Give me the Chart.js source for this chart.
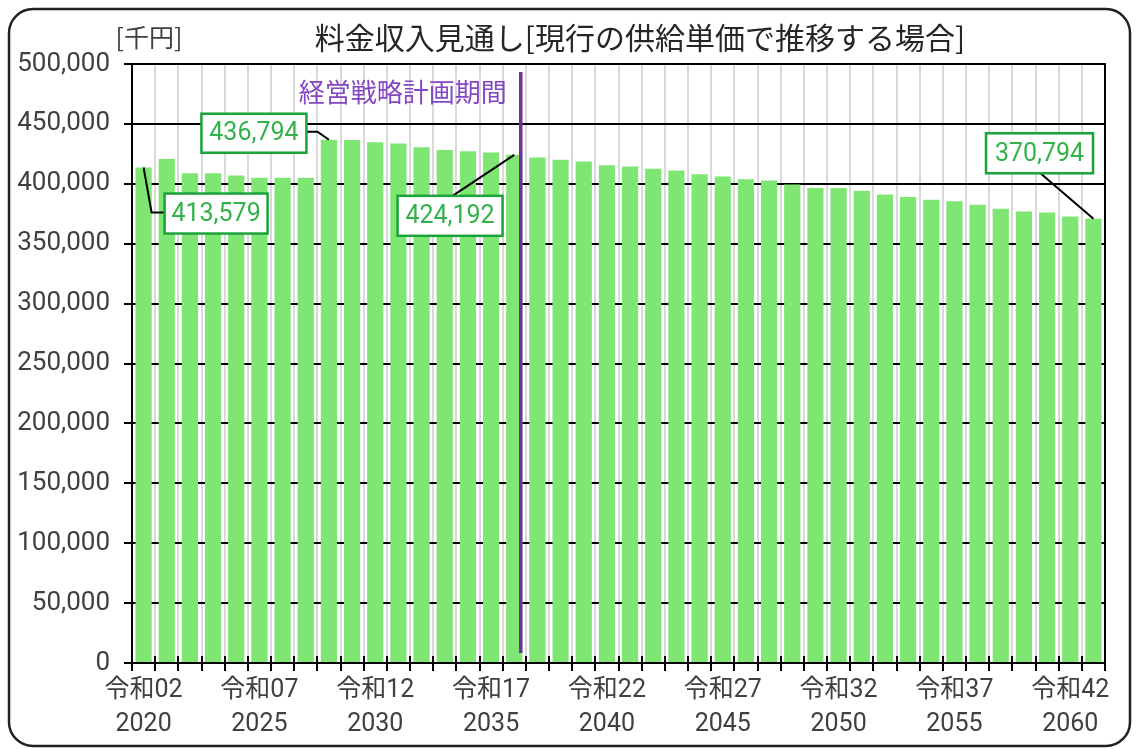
<!DOCTYPE html>
<html><head><meta charset="utf-8">
<script src="https://cdn.jsdelivr.net/npm/chart.js@4"></script>
<style>html,body{margin:0;padding:0;background:#fff}#wrap{width:1136px;height:749px;position:relative}canvas{display:block}</style>
</head><body><div id="wrap"><canvas id="c" width="1136" height="749"></canvas></div>
<script>
const years = ['2020','2021','2022','2023','2024','2025','2026','2027','2028','2029','2030','2031','2032','2033','2034','2035','2036','2037','2038','2039','2040','2041','2042','2043','2044','2045','2046','2047','2048','2049','2050','2051','2052','2053','2054','2055','2056','2057','2058','2059','2060','2061'];
const eraLabels = ['令和02','令和03','令和04','令和05','令和06','令和07','令和08','令和09','令和10','令和11','令和12','令和13','令和14','令和15','令和16','令和17','令和18','令和19','令和20','令和21','令和22','令和23','令和24','令和25','令和26','令和27','令和28','令和29','令和30','令和31','令和32','令和33','令和34','令和35','令和36','令和37','令和38','令和39','令和40','令和41','令和42','令和43'];
const revenue = [413579,420800,408800,408800,406900,405000,405000,405000,436794,436500,434700,433600,430500,428300,427200,426100,424192,421900,420000,418600,415500,414400,412500,411100,408000,406100,403900,402800,399400,396400,396400,394200,391100,388900,386700,385500,382500,379200,376900,376100,372800,370794];
const yTicksMin = 0, yTicksMax = 500000, yTicksStep = 50000;
const labelEvery = 5;
const calloutIndices = [0, 8, 16, 41];
const planEndIndex = 16;
const titleText = '料金収入見通し[現行の供給単価で推移する場合]';
const unitText = '[千円]';
const planText = '経営戦略計画期間';

const FONT_LATIN = 'Roboto, "Noto Sans CJK JP", sans-serif';
const FONT_JP = '"Noto Sans CJK JP", sans-serif';

const decorPlugin = {
  id: 'decor',
  afterDraw(chart) {
    const ctx = chart.ctx;
    const ca = chart.chartArea;
    const xs = chart.scales.x;
    ctx.save();
    // plot frame
    ctx.strokeStyle = '#000'; ctx.lineWidth = 2;
    ctx.strokeRect(ca.left, ca.top, ca.right - ca.left, ca.bottom - ca.top);
    // tick marks crossing x axis
    for (let i = 0; i <= years.length; i++) {
      const px = Math.round(xs.getPixelForValue(i - 0.5));
      ctx.beginPath(); ctx.moveTo(px, ca.bottom - 7); ctx.lineTo(px, ca.bottom); ctx.stroke();
    }
    // outer rounded border
    ctx.lineWidth = 2.5; ctx.strokeStyle = '#222';
    ctx.beginPath(); ctx.roundRect(9, 9, 1121, 737, 24); ctx.stroke();
    // title and unit
    ctx.fillStyle = '#262626'; ctx.textAlign = 'center'; ctx.textBaseline = 'middle';
    ctx.font = '30px ' + FONT_JP;
    ctx.fillText(titleText, 640, 38);
    ctx.font = '25px ' + FONT_JP; ctx.fillStyle = '#404040';
    ctx.fillText(unitText, 149, 37);
    // plan line
    const lx = xs.getPixelForValue(planEndIndex + 0.28);
    ctx.strokeStyle = '#7030a0'; ctx.lineWidth = 3.5;
    ctx.beginPath(); ctx.moveTo(lx, ca.top + 8); ctx.lineTo(lx, ca.bottom - 10); ctx.stroke();
    ctx.fillStyle = '#8446c2'; ctx.font = '26px ' + FONT_JP; ctx.textAlign = 'right';
    ctx.fillText(planText, lx - 14, ca.top + 28);
    // callouts
    const meta = chart.getDatasetMeta(0);
    const specs = {
      0:  {bx: 21, by: 26, w: 103, h: 40, leader: (A, b) => [[A.x, A.y], [A.x + 8, A.y + 45], [b.x, A.y + 45]]},
      8:  {bx: -127.5, by: -26, w: 105, h: 39, leader: (A, b) => [[b.x + b.w, A.y - 8], [A.x - 11.5, A.y - 8], [A.x, A.y]]},
      16: {bx: -116.7, by: 41, w: 105, h: 40, leader: (A, b) => [[A.x - 61.7, b.y], [A.x, A.y]]},
      41: {bx: -107.4, by: -85.5, w: 107, h: 40, leader: (A, b) => [[A.x - 53, b.y + b.h], [A.x, A.y]]}
    };
    calloutIndices.forEach(i => {
      const el = meta.data[i];
      const A = {x: el.x, y: el.y};
      const s = specs[i];
      const b = {x: A.x + s.bx, y: A.y + s.by, w: s.w, h: s.h};
      ctx.strokeStyle = '#000'; ctx.lineWidth = 2;
      const pts = s.leader(A, b);
      ctx.beginPath(); ctx.moveTo(pts[0][0], pts[0][1]);
      for (let k = 1; k < pts.length; k++) ctx.lineTo(pts[k][0], pts[k][1]);
      ctx.stroke();
      ctx.fillStyle = '#fff'; ctx.fillRect(b.x, b.y, b.w, b.h);
      ctx.strokeStyle = '#1aa33a'; ctx.lineWidth = 2.5; ctx.strokeRect(b.x, b.y, b.w, b.h);
      ctx.fillStyle = '#33b24a'; ctx.font = '25px ' + FONT_LATIN; ctx.textAlign = 'center'; ctx.textBaseline = 'middle';
      ctx.fillText(revenue[i].toLocaleString('en-US'), b.x + b.w / 2, b.y + b.h / 2 + 1);
    });
    ctx.restore();
  }
};

new Chart(document.getElementById('c'), {
  type: 'bar',
  data: { labels: years, datasets: [{ data: revenue, backgroundColor: '#7fe673', borderWidth: 0, categoryPercentage: 1, barPercentage: 0.7 }] },
  options: {
    responsive: false, animation: false, devicePixelRatio: 1,
    layout: { padding: { top: 64, right: 31, left: 0, bottom: 0 } },
    plugins: { legend: { display: false }, tooltip: { enabled: false }, title: { display: false } },
    scales: {
      x: {
        offset: true,
        grid: { offset: true, color: '#d9d9d9', lineWidth: 2, drawTicks: true, tickLength: 8, tickColor: '#000', tickWidth: 2 },
        border: { color: '#000', width: 2 },
        ticks: { autoSkip: false, maxRotation: 0, minRotation: 0, padding: 2, color: '#404040',
          font: { family: FONT_LATIN, size: 25, lineHeight: 1.38 },
          callback: (v, i) => i % labelEvery === 0 ? [eraLabels[i], years[i]] : '' },
        afterFit: s => { s.height = 86; }
      },
      y: {
        min: yTicksMin, max: yTicksMax,
        grid: { color: '#000', lineWidth: 2, tickLength: 8, tickColor: '#000' },
        border: { color: '#000', width: 2 },
        ticks: { stepSize: yTicksStep, padding: 14, color: '#404040', font: { family: FONT_LATIN, size: 26 },
          callback: v => v.toLocaleString('en-US') },
        afterFit: s => { s.width = 132; }
      }
    }
  },
  plugins: [decorPlugin]
});
</script></body></html>
